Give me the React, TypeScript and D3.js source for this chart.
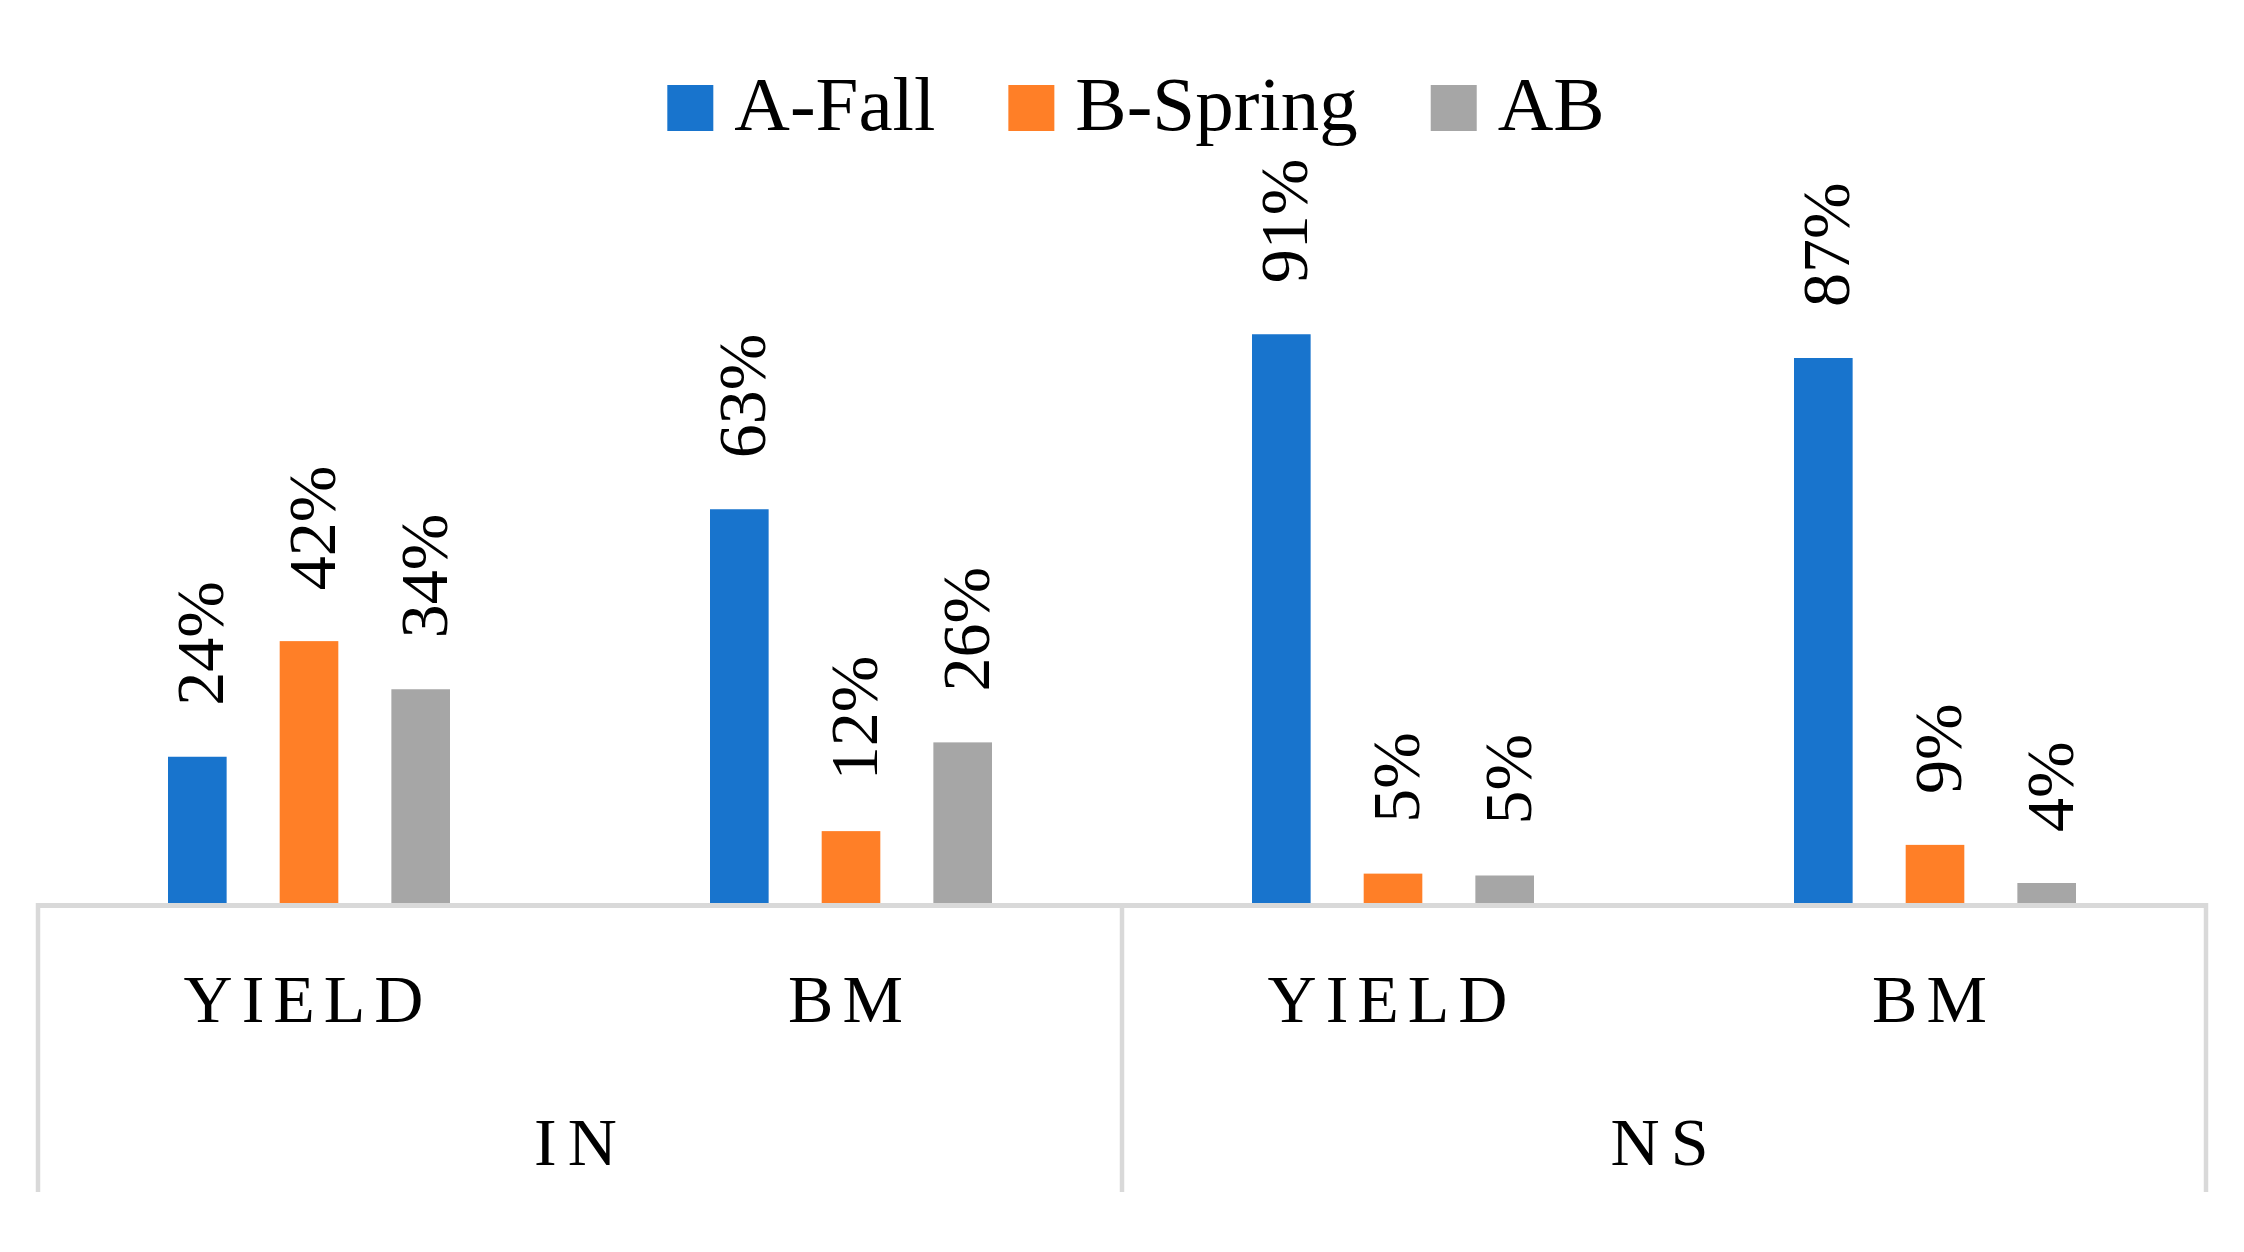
import * as d3 from "d3";
import React from "react";

// chart data
const groups = ["IN", "NS"];
const measures = ["YIELD", "BM"];
const series = ["A-Fall", "B-Spring", "AB"];
const colors = ["#1874cd", "#ff7f27", "#a6a6a6"];
// values per category, order: IN-YIELD, IN-BM, NS-YIELD, NS-BM (bar heights)
const aFall = [0.234, 0.63, 0.91, 0.872];
const bSpring = [0.419, 0.115, 0.047, 0.093];
const ab = [0.342, 0.257, 0.044, 0.032];
// data labels as printed on the chart
const aFallLabels = ["24%", "63%", "91%", "87%"];
const bSpringLabels = ["42%", "12%", "5%", "9%"];
const abLabels = ["34%", "26%", "5%", "4%"];

const FONT = "'Liberation Serif', 'Times New Roman', serif";

const App = () => {
  const ref = React.useRef<SVGSVGElement>(null);

  React.useEffect(() => {
    const W = 2244,
      H = 1252;
    const left = 38,
      right = 2206,
      base = 903;

    const svg = d3.select(ref.current).attr("width", W).attr("height", H);
    svg.selectAll("*").remove();

    const cats: { group: string; measure: string; idx: number }[] = [];
    groups.forEach((g) =>
      measures.forEach((m) => cats.push({ group: g, measure: m, idx: cats.length }))
    );
    const values = [aFall, bSpring, ab];
    const labels = [aFallLabels, bSpringLabels, abLabels];

    const x0 = d3
      .scaleBand<number>()
      .domain(cats.map((c) => c.idx))
      .range([left, right]);
    const x1 = d3
      .scaleBand<string>()
      .domain(series)
      .range([130, x0.bandwidth() - 130])
      .paddingInner(0.475);
    const y = d3.scaleLinear().domain([0, 1]).range([base, base - 625]);

    // bars + labels
    series.forEach((s, si) => {
      const g = svg.append("g");
      const data = cats.map((c) => ({ c, v: values[si][c.idx], l: labels[si][c.idx] }));
      g.selectAll("rect")
        .data(data)
        .enter()
        .append("rect")
        .attr("x", (d) => x0(d.c.idx)! + x1(s)!)
        .attr("y", (d) => y(d.v))
        .attr("width", x1.bandwidth())
        .attr("height", (d) => base - y(d.v))
        .attr("fill", colors[si]);

      g.selectAll("text")
        .data(data)
        .enter()
        .append("text")
        .attr(
          "transform",
          (d) =>
            "translate(" +
            (x0(d.c.idx)! + x1(s)! + x1.bandwidth() / 2 + 26) +
            "," +
            (y(d.v) - 51) +
            ") rotate(-90)"
        )
        .style("font-family", FONT)
        .style("font-size", "68px")
        .attr("fill", "#000")
        .text((d) => d.l);
    });

    // axis lines
    svg
      .append("line")
      .attr("x1", left)
      .attr("x2", right)
      .attr("y1", base + 2.5)
      .attr("y2", base + 2.5)
      .attr("stroke", "#d9d9d9")
      .attr("stroke-width", 5);

    const bounds = [left, x0(measures.length)!, right];
    svg
      .selectAll("line.sep")
      .data(bounds)
      .enter()
      .append("line")
      .attr("class", "sep")
      .attr("x1", (d) => d)
      .attr("x2", (d) => d)
      .attr("y1", base)
      .attr("y2", 1192)
      .attr("stroke", "#d9d9d9")
      .attr("stroke-width", 4.5);

    // category labels
    svg
      .selectAll("text.measure")
      .data(cats)
      .enter()
      .append("text")
      .attr("class", "measure")
      .attr("x", (d) => x0(d.idx)! + x0.bandwidth() / 2 - 1)
      .attr("y", 1022)
      .attr("text-anchor", "middle")
      .style("font-family", FONT)
      .style("font-size", "68px")
      .style("letter-spacing", "9px")
      .text((d) => d.measure);

    svg
      .selectAll("text.group")
      .data(groups)
      .enter()
      .append("text")
      .attr("class", "group")
      .attr("x", (d, i) => (bounds[i] + bounds[i + 1]) / 2 + 1)
      .attr("y", 1165)
      .attr("text-anchor", "middle")
      .style("font-family", FONT)
      .style("font-size", "68px")
      .style("letter-spacing", "11px")
      .text((d) => d);

    // legend, centred around x=1136
    const legend = svg.append("g");
    const sw = 46,
      textGap = 21,
      itemGap = 73;
    let cx = 0;
    series.forEach((s, i) => {
      legend
        .append("rect")
        .attr("x", cx)
        .attr("y", 85)
        .attr("width", sw)
        .attr("height", sw)
        .attr("fill", colors[i]);
      const t = legend
        .append("text")
        .attr("x", cx + sw + textGap)
        .attr("y", 130)
        .style("font-family", FONT)
        .style("font-size", "77px")
        .text(s);
      const w = (t.node() as SVGTextElement).getComputedTextLength();
      cx += sw + textGap + w + itemGap;
    });
    const total = cx - itemGap;
    legend.attr("transform", "translate(" + (1136 - total / 2) + ",0)");
  }, []);

  return (
    <svg
      ref={ref}
      style={{ position: "absolute", left: 0, top: 0, display: "block", background: "#fff" }}
    ></svg>
  );
};

export default App;
